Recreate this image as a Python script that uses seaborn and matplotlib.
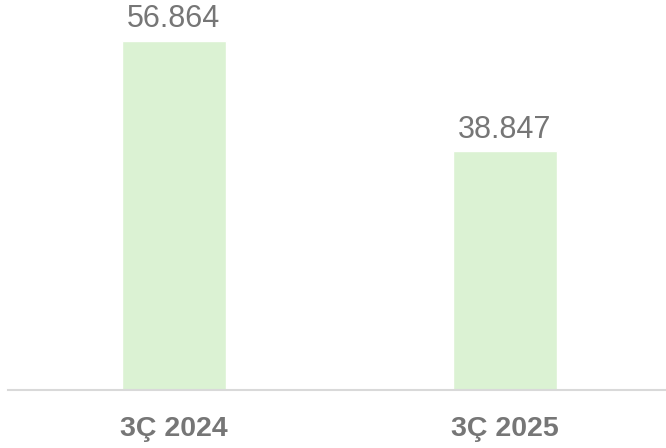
import matplotlib
matplotlib.use("Agg")
import matplotlib.pyplot as plt
import seaborn as sns
import pandas as pd

# Data
quarters = ["3Ç 2024", "3Ç 2025"]
values = [56864, 38847]
value_labels = ["56.864", "38.847"]

df = pd.DataFrame({"quarter": quarters, "value": values})

sns.set_theme(style="white")
plt.rcParams["font.family"] = ["Liberation Sans", "DejaVu Sans"]

text_color = "#767676"
bar_color = "#dbf2d3"

fig = plt.figure(figsize=(6.66, 4.48), dpi=100)
ax = fig.add_axes([8 / 666, 1 - 390 / 448, 1 - 8 / 666, 390 / 448])

sns.barplot(data=df, x="quarter", y="value", color=bar_color,
            width=0.314, saturation=1, ax=ax)

ax.set_xlim(-0.5, 1.486)
ax.set_ylim(0, 63500)

# value labels above bars
for i, (v, lab) in enumerate(zip(values, value_labels)):
    ax.annotate(lab, (i, v), xytext=(0, 10), textcoords="offset points",
                ha="center", va="baseline", fontsize=22, color=text_color)

for s in ["top", "right", "left"]:
    ax.spines[s].set_visible(False)
ax.spines["bottom"].set_color("#d9d9d9")
ax.spines["bottom"].set_linewidth(1.5)

ax.set_yticks([])
ax.set_xlabel("")
ax.set_ylabel("")
ax.tick_params(axis="x", length=0, pad=19, labelsize=20.5, labelcolor=text_color)
for t in ax.get_xticklabels():
    t.set_fontweight("bold")

fig.savefig("out.png", dpi=100)
